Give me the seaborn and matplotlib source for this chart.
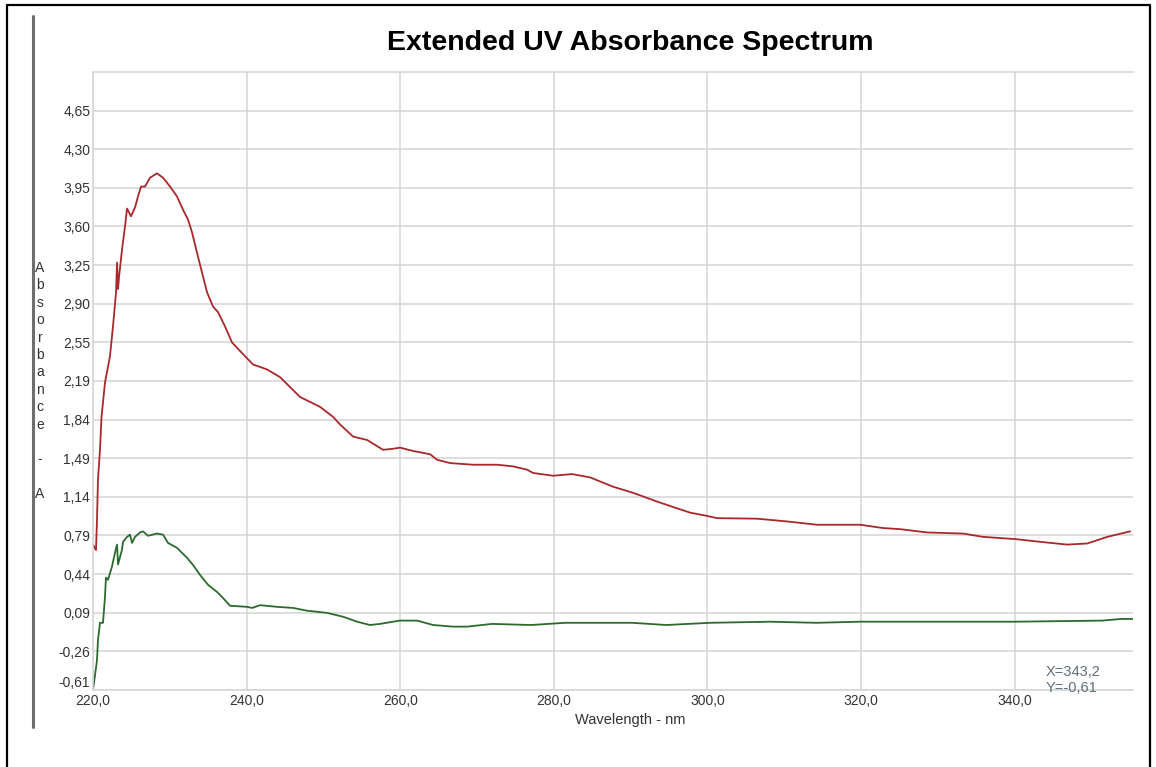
import matplotlib
matplotlib.use("Agg")
import matplotlib.pyplot as plt
from matplotlib.lines import Line2D
import seaborn as sns
import pandas as pd

# ---- data ----
red_nm = [220.0, 220.39, 220.52, 220.65, 220.91, 221.11, 221.56, 222.21, 222.60, 223.00,
          223.13, 223.26, 223.39, 223.78, 224.17, 224.43, 224.95, 225.47, 225.86, 226.25,
          226.77, 227.42, 228.33, 229.12, 230.03, 230.94, 231.72, 232.37, 232.89, 233.54,
          234.19, 234.85, 235.63, 236.28, 237.19, 238.10, 239.79, 240.84, 242.66, 244.35,
          246.96, 249.56, 251.25, 252.17, 253.86, 255.68, 257.77, 259.07, 259.98, 261.67,
          263.89, 264.80, 266.49, 269.49, 272.61, 274.69, 276.52, 277.30, 279.90, 282.38,
          284.72, 287.72, 290.32, 293.45, 296.44, 297.74, 299.96, 301.26, 306.47, 310.38,
          314.28, 319.88, 322.88, 325.09, 328.61, 333.29, 335.90, 340.07, 343.32, 346.84,
          349.44, 352.05, 355.04]
red_abs = [0.71, 0.66, 0.935, 1.30, 1.57, 1.87, 2.18, 2.42, 2.69, 3.00,
           3.27, 3.03, 3.14, 3.39, 3.60, 3.76, 3.69, 3.77, 3.87, 3.96,
           3.96, 4.04, 4.08, 4.04, 3.96, 3.87, 3.75, 3.66, 3.545, 3.36,
           3.18, 3.00, 2.87, 2.82, 2.69, 2.545, 2.42, 2.345, 2.30, 2.23,
           2.05, 1.96, 1.87, 1.80, 1.69, 1.66, 1.57, 1.58, 1.59, 1.56,
           1.53, 1.48, 1.45, 1.435, 1.435, 1.42, 1.39, 1.36, 1.335, 1.35,
           1.32, 1.235, 1.18, 1.10, 1.03, 1.00, 0.97, 0.95, 0.945, 0.92,
           0.89, 0.89, 0.86, 0.85, 0.82, 0.81, 0.78, 0.76, 0.735, 0.71,
           0.72, 0.78, 0.83]

green_nm = [220.0, 220.52, 220.65, 220.91, 221.30, 221.56, 221.69, 221.95, 222.47, 222.86,
            223.13, 223.26, 223.78, 223.91, 224.43, 224.82, 225.08, 225.47, 226.12, 226.51,
            227.16, 228.33, 229.12, 229.77, 230.94, 232.24, 233.02, 233.93, 234.98, 236.15,
            236.93, 237.84, 240.05, 240.71, 241.75, 243.96, 246.04, 247.87, 250.47, 252.56,
            254.38, 256.07, 257.37, 259.07, 259.98, 262.19, 264.28, 266.88, 268.70, 271.96,
            277.04, 281.47, 290.19, 294.62, 300.35, 308.16, 314.15, 319.88, 329.26, 340.07,
            351.40, 353.87, 355.43]
green_abs = [-0.61, -0.34, -0.155, 0.0, 0.0, 0.235, 0.41, 0.39, 0.51, 0.635,
             0.71, 0.53, 0.665, 0.735, 0.78, 0.80, 0.725, 0.78, 0.82, 0.83,
             0.79, 0.81, 0.80, 0.725, 0.68, 0.59, 0.525, 0.435, 0.345, 0.28,
             0.225, 0.155, 0.145, 0.135, 0.16, 0.145, 0.135, 0.11, 0.09, 0.055,
             0.01, -0.02, -0.01, 0.01, 0.02, 0.02, -0.02, -0.035, -0.035, -0.01,
             -0.02, 0.0, 0.0, -0.02, 0.0, 0.01, 0.0, 0.01, 0.01, 0.01,
             0.02, 0.035, 0.035]

y_tick_labels = ["-0,61", "-0,26", "0,09", "0,44", "0,79", "1,14", "1,49", "1,84",
                 "2,19", "2,55", "2,90", "3,25", "3,60", "3,95", "4,30", "4,65"]
y_min, y_step, y_max = -0.61, 0.35067, 5.0
x_ticks = [220, 240, 260, 280, 300, 320, 340]
x_tick_labels = ["220,0", "240,0", "260,0", "280,0", "300,0", "320,0", "340,0"]
x_min, x_max = 220.0, 355.4

title = "Extended UV Absorbance Spectrum"
x_label = "Wavelength - nm"
y_label = "Absorbance - A"
cursor_text = "X=343,2\nY=-0,61"

# ---- styling ----
sns.set_theme(style="white")
plt.rcParams["font.family"] = ["Liberation Sans", "DejaVu Sans"]

W, H = 1156, 767
fig = plt.figure(figsize=(W / 100, H / 100), dpi=100)
ax = fig.add_axes([93 / W, 1 - 690 / H, (1133 - 93) / W, (690 - 72) / H])

df_red = pd.DataFrame({"nm": red_nm, "A": red_abs})
df_green = pd.DataFrame({"nm": green_nm, "A": green_abs})
sns.lineplot(data=df_red, x="nm", y="A", ax=ax, color="#a8282c", linewidth=1.3,
             estimator=None, sort=False)
sns.lineplot(data=df_green, x="nm", y="A", ax=ax, color="#2d6a2d", linewidth=1.3,
             estimator=None, sort=False)

ax.set_xlim(x_min, x_max)
ax.set_ylim(y_min, y_max)
yt = [y_min + k * y_step for k in range(len(y_tick_labels))]
ax.set_yticks(yt)
ax.set_yticklabels(y_tick_labels)
ax.set_xticks(x_ticks)
ax.set_xticklabels(x_tick_labels)
ax.tick_params(axis="both", length=0, labelsize=10, colors="#333333")
ax.tick_params(axis="y", pad=2)
ax.tick_params(axis="x", pad=3)
ax.get_yticklabels()[0].set_verticalalignment("bottom")
ax.grid(True, color="#d4d4d4", linewidth=1.1)
ax.set_xlabel("")
ax.set_ylabel("")
for s in ["top", "left", "bottom"]:
    ax.spines[s].set_color("#d4d4d4")
    ax.spines[s].set_linewidth(1.1)
ax.spines["right"].set_visible(False)

# title and labels
fig.text(630 / W, 1 - 43 / H, title, ha="center", va="center", fontsize=20.5,
         fontweight="bold", color="black")
fig.text(630 / W, 1 - 720 / H, x_label, ha="center", va="center", fontsize=10.5,
         color="#333333")
for i, ch in enumerate(y_label):
    fig.text(40 / W, 1 - (268 + i * 17.4) / H, ch, ha="center", va="center",
             fontsize=10, color="#333333")
fig.text(1046 / W, 1 - 680 / H, cursor_text, ha="left", va="center", fontsize=10.5,
         color="#5e707a", linespacing=1.15)

# decorative frame and side bar
fig.add_artist(Line2D([33 / W, 33 / W], [1 - 16 / H, 1 - 727 / H], color="#6e6e6e",
                      linewidth=2.2))
fig.add_artist(Line2D([7 / W, 7 / W, 1150 / W, 1150 / W],
                      [0, 1 - 5 / H, 1 - 5 / H, 0], color="black", linewidth=1.6))

fig.savefig("out.png", dpi=100)
